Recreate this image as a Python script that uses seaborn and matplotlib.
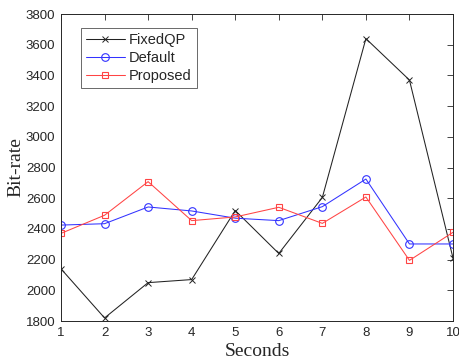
import matplotlib
matplotlib.use("Agg")
import matplotlib.pyplot as plt
import seaborn as sns
import pandas as pd

seconds = [1, 2, 3, 4, 5, 6, 7, 8, 9, 10]
fixed_qp = [2140, 1820, 2050, 2070, 2520, 2240, 2605, 3640, 3370, 2210]
default = [2425, 2434, 2543, 2517, 2470, 2454, 2545, 2725, 2302, 2302]
proposed = [2371, 2489, 2708, 2454, 2478, 2541, 2436, 2608, 2195, 2378]
series_names = ["FixedQP", "Default", "Proposed"]
y_ticks = [1800, 2000, 2200, 2400, 2600, 2800, 3000, 3200, 3400, 3600, 3800]

df = pd.DataFrame({"Seconds": seconds * 3,
                   "Bit-rate": fixed_qp + default + proposed,
                   "series": [n for n in series_names for _ in seconds]})

sns.set_style("white")
plt.rcParams["font.family"] = ["Liberation Sans", "DejaVu Sans"]

fig = plt.figure(figsize=(4.6, 3.6), dpi=100)
ax = fig.add_axes([0.1326, 0.1083, 0.8522, 0.8527])

styles = {"FixedQP": dict(color="#222222", marker="x", ms=4.5, mew=0.7),
          "Default": dict(color="#3333ff", marker="o", ms=5.5, mfc="none", mew=0.8),
          "Proposed": dict(color="#ff4444", marker="s", ms=4.8, mfc="none", mew=0.8)}

for name in series_names:
    sub = df[df["series"] == name]
    st = styles[name]
    sns.lineplot(data=sub, x="Seconds", y="Bit-rate", ax=ax, color=st["color"],
                 linewidth=0.75, marker=st["marker"], markersize=st["ms"],
                 markerfacecolor=st.get("mfc", st["color"]),
                 markeredgecolor=st["color"], markeredgewidth=st["mew"],
                 label=name)

ax.set_xlim(1, 10)
ax.set_ylim(1800, 3800)
ax.set_xticks(seconds)
ax.set_yticks(y_ticks)
ax.tick_params(direction="in", length=4, width=0.6, colors="#262626",
               labelsize=9.5, top=True, right=True, labeltop=False,
               labelright=False, pad=4)
for sp in ax.spines.values():
    sp.set_color("#262626")
    sp.set_linewidth(0.7)

serif = ["Liberation Serif", "DejaVu Serif"]
ax.set_xlabel("Seconds", family=serif, fontsize=14, labelpad=3)
ax.set_ylabel("Bit-rate", family=serif, fontsize=14, labelpad=1)

leg = ax.legend(loc="upper left", bbox_to_anchor=(0.05, 0.955), fontsize=10.5,
                frameon=True, fancybox=False, edgecolor="#262626",
                borderpad=0.35, handlelength=2.7, handletextpad=0.25,
                labelspacing=0.28, borderaxespad=0)
leg.get_frame().set_linewidth(0.6)

fig.savefig("out.png", dpi=100)
